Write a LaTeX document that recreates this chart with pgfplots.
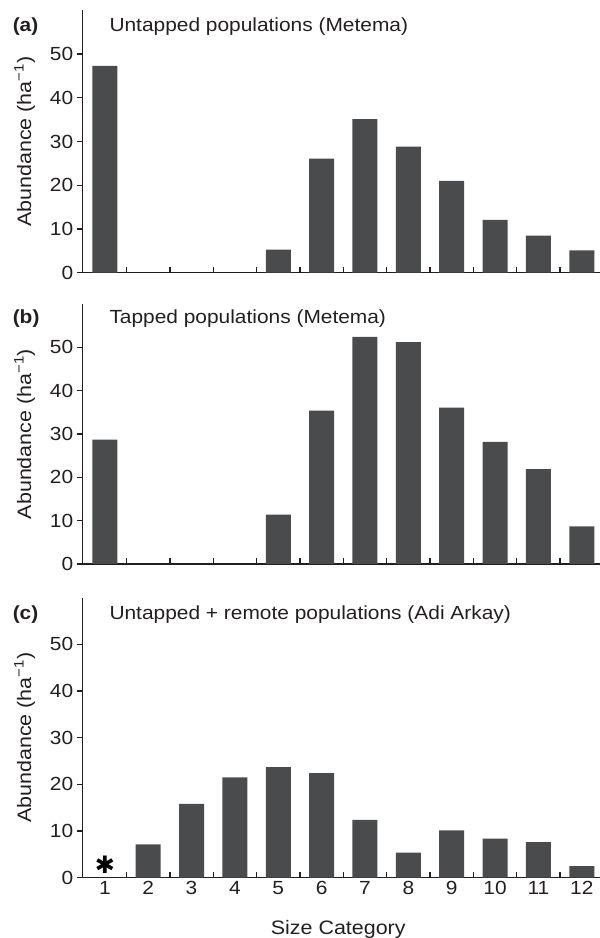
\documentclass[border=0pt]{standalone}
\usepackage{pgfplots}
\pgfplotsset{compat=1.18}
\usepackage{fontspec}
\setmainfont[FakeStretch=1.1]{Liberation Sans}
\newfontfamily\dejavu{DejaVu Sans}
\definecolor{barc}{HTML}{4A4B4D}
\definecolor{axc}{HTML}{231F20}
\newcommand{\tf}{\fontsize{19}{22}\selectfont}
\newcommand{\lf}{\fontsize{19.5}{22}\selectfont}
\pgfplotsset{
  panel/.style={
    scale only axis, width=517.3pt,
    xmin=0.49, xmax=12.42, ymin=0, ymax=60,
    axis x line=bottom, axis y line=left,
    axis line style={-, line width=1.2pt, axc},
    xtick={1.5,2.5,...,11.5}, xticklabels={},
    xtick align=inside, ytick align=outside,
    ytick={0,10,...,50},
    tick style={axc, line width=1.3pt},
    major tick length=6pt,
    /pgf/number format/assume math mode=true,
    tick label style={font=\tf, text=axc},
    ylabel={Abundance (ha\textsuperscript{−1})},
    ylabel style={at={(axis description cs:-0.112,0.5)}, anchor=center, font=\lf, text=axc},
    xlabel style={font=\lf, text=axc},
    clip=false,
  },
  bars/.style={ybar, bar width=25pt, fill=barc, draw=none},
}
\begin{document}
\begin{tikzpicture}
\path[use as bounding box] (0,0) rectangle (600pt,938pt);
% (a)
\begin{axis}[panel, height=262.4pt, at={(82.7pt,665.3pt)}, anchor=south west]
\addplot[bars] coordinates {(1,47.3) (5,5.3) (6,26.1) (7,35.1) (8,28.8) (9,21.0) (10,12.1) (11,8.5) (12,5.1)};
\node[anchor=base west, font=\tf\bfseries, text=axc] at (axis description cs:-0.142,0.919) {(a)};
\node[anchor=base west, font=\tf, text=axc] at (axis description cs:0.045,0.919) {Untapped populations (Metema)};
\end{axis}
% (b)
\begin{axis}[panel, height=260pt, at={(82.7pt,374pt)}, anchor=south west]
\addplot[bars] coordinates {(1,28.7) (5,11.4) (6,35.4) (7,52.4) (8,51.2) (9,36.1) (10,28.2) (11,21.9) (12,8.7)};
\node[anchor=base west, font=\tf\bfseries, text=axc] at (axis description cs:-0.142,0.926) {(b)};
\node[anchor=base west, font=\tf, text=axc] at (axis description cs:0.045,0.926) {Tapped populations (Metema)};
\end{axis}
% (c)
\begin{axis}[panel, height=280.2pt, at={(82.7pt,60.3pt)}, anchor=south west,
  extra x ticks={1,2,...,12},
  extra x tick labels={1,2,3,4,5,6,7,8,9,10,11,12},
  extra x tick style={major tick length=0pt},
  xlabel={Size Category},
  xlabel style={at={(axis description cs:0.494,-0.201)}, anchor=base},
]
\addplot[bars] coordinates {(2,7.15) (3,15.8) (4,21.5) (5,23.7) (6,22.4) (7,12.4) (8,5.35) (9,10.15) (10,8.35) (11,7.6) (12,2.5)};
\node[anchor=center, font=\dejavu\fontsize{24}{24}\selectfont, text=black] at ([yshift=12.7pt]axis cs:1,0) {✱};
\node[anchor=base west, font=\tf\bfseries, text=axc] at (axis description cs:-0.142,0.922) {(c)};
\node[anchor=base west, font=\tf, text=axc] at (axis description cs:0.045,0.922) {Untapped + remote populations (Adi Arkay)};
\end{axis}
\end{tikzpicture}
\end{document}
